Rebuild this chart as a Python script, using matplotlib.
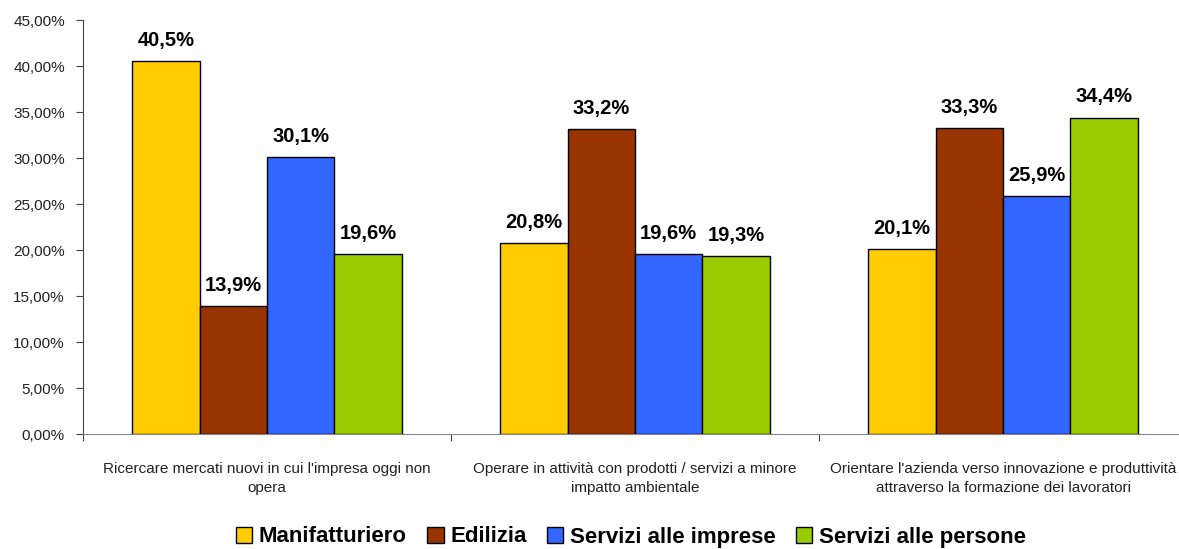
import numpy as np
import matplotlib.pyplot as plt
from matplotlib.patches import Patch

# ── data ─────────────────────────────────────────────────────────────
categories = [
    "Ricercare mercati nuovi in cui l'impresa oggi non\nopera",
    "Operare in attività con prodotti / servizi a minore\nimpatto ambientale",
    "Orientare l'azienda verso innovazione e produttività\nattraverso la formazione dei lavoratori",
]
series = ["Manifatturiero", "Edilizia", "Servizi alle imprese", "Servizi alle persone"]
manifatturiero = [40.5, 20.8, 20.1]
edilizia = [13.9, 33.2, 33.3]
servizi_imprese = [30.1, 19.6, 25.9]
servizi_persone = [19.6, 19.3, 34.4]
yticks = [0, 5, 10, 15, 20, 25, 30, 35, 40, 45]

values = [manifatturiero, edilizia, servizi_imprese, servizi_persone]
colors = ["#FFCC00", "#993300", "#3366FF", "#99CC00"]

font = "Liberation Sans"

fig = plt.figure(figsize=(11.79, 5.49), dpi=100)
ax = fig.add_axes([83 / 1179, 115 / 549, 1104 / 1179, 414 / 549])

x = np.arange(len(categories))
bw = 0.183
for i, (vals, col) in enumerate(zip(values, colors)):
    pos = x + (i - 1.5) * bw
    ax.bar(pos, vals, width=bw, color=col, edgecolor="black", linewidth=1.0,
           label=series[i], zorder=3)
    for xp, v in zip(pos, vals):
        ax.text(xp, v + 1.2, f"{v:.1f}%".replace(".", ","), ha="center", va="bottom",
                fontsize=14.5, fontweight="bold", family=font)

ax.set_xlim(-0.5, 2.5)
ax.set_ylim(0, 45)
ax.set_yticks(yticks)
ax.set_yticklabels([f"{t:.2f}%".replace(".", ",") for t in yticks],
                   family=font, fontsize=11, color="#222222")
ax.set_xticks([-0.5, 0.5, 1.5, 2.5])
ax.set_xticklabels([])
ax.set_xticks(x, minor=True)
ax.set_xticklabels(categories, minor=True, family=font, fontsize=11, color="#222222",
                   linespacing=1.45)
ax.tick_params(axis="x", which="minor", length=0, pad=20)
ax.tick_params(axis="x", which="major", length=5, direction="out", color="#444444")
ax.tick_params(axis="y", length=5, direction="out", color="#444444", pad=8)

for s in ["top", "right"]:
    ax.spines[s].set_visible(False)
ax.spines["left"].set_color("#444444")
ax.spines["bottom"].set_color("#888888")

handles = [Patch(facecolor=c, edgecolor="black", label=s) for c, s in zip(colors, series)]
fig.legend(handles=handles, loc="center", bbox_to_anchor=(0.535, 12 / 549),
           ncol=4, frameon=False, prop={"family": font, "weight": "bold", "size": 16},
           handlelength=0.75, handleheight=0.75, handletextpad=0.3, columnspacing=0.9,
           borderaxespad=0)

fig.savefig("out.png", dpi=100)
